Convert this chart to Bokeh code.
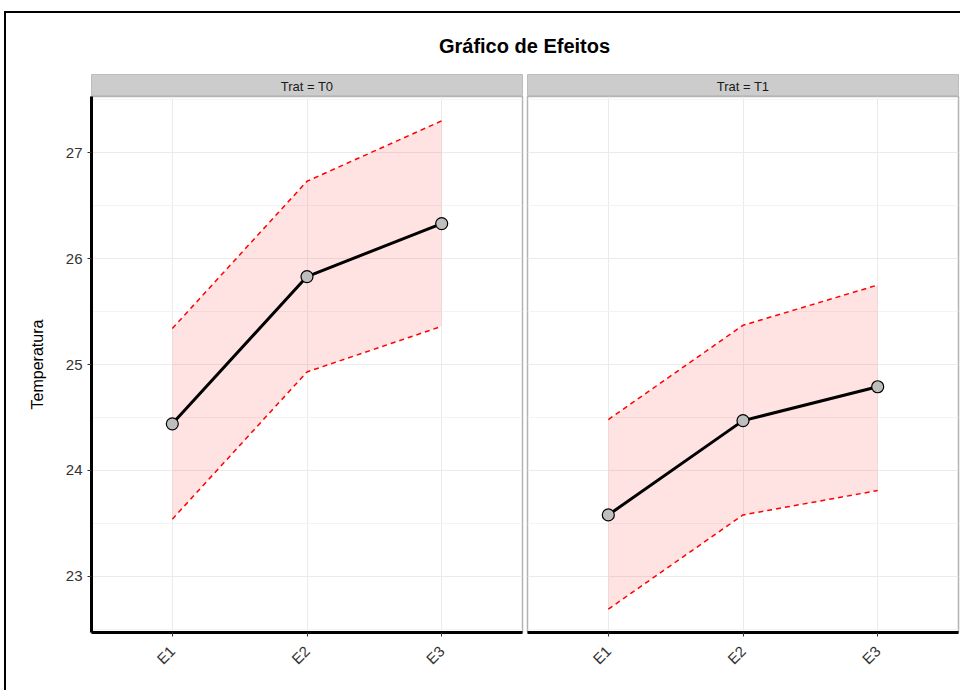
import math
from bokeh.plotting import figure
from bokeh.models import Range1d, FixedTicker, Grid, Div
from bokeh.layouts import column, row
from bokeh.embed import file_html
from bokeh.resources import INLINE
from bokeh.core.properties import value

# ---- data ----
categories = ["E1", "E2", "E3"]
x_pos = [1, 2, 3]
t0_mean = [24.44, 25.83, 26.33]
t0_upper = [25.34, 26.73, 27.30]
t0_lower = [23.54, 24.93, 25.36]
t1_mean = [23.58, 24.47, 24.79]
t1_upper = [24.48, 25.37, 25.75]
t1_lower = [22.69, 23.58, 23.81]
panel_labels = ["Trat = T0", "Trat = T1"]
y_ticks = [23, 24, 25, 26, 27]
y_minor = [22.5, 23.5, 24.5, 25.5, 26.5, 27.5]
title_text = "Gráfico de Efeitos"
y_label = "Temperatura"

FONT = "Liberation Sans"
GRID = "#EBEBEB"
FRAME_W = 431
FRAME_H = 536
LEFT_B = 85


def make_strip(label, left):
    bl = LEFT_B if left else 3
    s = figure(width=bl + FRAME_W + 2, height=22, x_range=Range1d(0, 1), y_range=Range1d(0, 1),
               output_backend="svg", toolbar_location=None,
               min_border_left=bl, min_border_right=2, min_border_top=0, min_border_bottom=0,
               x_axis_location=None, y_axis_location=None,
               background_fill_color="#CCCCCC", outline_line_color="#BDBDBD", outline_line_width=1)
    s.grid.grid_line_color = None
    s.grid.visible = False
    s.text(x=[0.5], y=[0.45], text=[label], text_align="center", text_baseline="middle",
           text_font=value(FONT), text_font_size="13px", text_color="#1A1A1A")
    return s


def make_panel(mean, up, lo, left):
    bl = LEFT_B if left else 3
    p = figure(width=bl + FRAME_W + 2, height=FRAME_H + 58,
               x_range=Range1d(0.4, 3.6), y_range=Range1d(22.47, 27.53),
               output_backend="svg", toolbar_location=None,
               min_border_left=bl, min_border_right=2, min_border_top=0, min_border_bottom=58,
               y_axis_location="left" if left else None,
               outline_line_color="#B3B3B3", outline_line_width=1.5)
    yt = FixedTicker(ticks=y_ticks, minor_ticks=y_minor)
    if left:
        ax = p.yaxis[0]
        ax.ticker = yt
        ax.axis_label = y_label
        ax.axis_label_text_font = FONT
        ax.axis_label_text_font_size = "16px"
        ax.axis_label_text_font_style = "normal"
        ax.axis_label_text_color = "#000000"
        ax.axis_label_standoff = 17
        ax.axis_line_color = "black"
        ax.axis_line_width = 3
        ax.major_tick_line_color = "#333333"
        ax.major_tick_in = 0
        ax.major_tick_out = 4
        ax.minor_tick_line_color = None
        ax.major_label_text_font = FONT
        ax.major_label_text_font_size = "15px"
        ax.major_label_text_color = "#333333"
        ax.major_label_standoff = 5
        p.ygrid.grid_line_color = GRID
        p.ygrid.minor_grid_line_color = "#F3F3F3"
    else:
        p.ygrid.visible = False
        p.add_layout(Grid(dimension=1, ticker=yt, grid_line_color=GRID,
                          minor_grid_line_color="#F3F3F3"))
    xa = p.xaxis[0]
    xa.ticker = FixedTicker(ticks=x_pos)
    xa.major_label_overrides = {x: c for x, c in zip(x_pos, categories)}
    xa.axis_line_color = "black"
    xa.axis_line_width = 3
    xa.major_tick_line_color = "#333333"
    xa.major_tick_in = 0
    xa.major_tick_out = 4
    xa.minor_tick_line_color = None
    xa.major_label_orientation = math.pi / 4
    xa.major_label_standoff = 12
    xa.major_label_text_font = FONT
    xa.major_label_text_font_size = "15px"
    xa.major_label_text_color = "#333333"
    p.xgrid.grid_line_color = GRID

    p.varea(x=x_pos, y1=lo, y2=up, fill_color="red", fill_alpha=0.11)
    p.line(x_pos, up, line_color="red", line_dash="5 4", line_width=1.5)
    p.line(x_pos, lo, line_color="red", line_dash="5 4", line_width=1.5)
    p.line(x_pos, mean, line_color="black", line_width=3)
    p.scatter(x_pos, mean, size=12, fill_color="#BEBEBE", line_color="black", line_width=1.2)
    return p


title_w = FRAME_W * 2 + 5
title = Div(text=f'<div style="width:{title_w}px;font-family:{FONT},Arial,sans-serif;font-weight:bold;'
                 f'font-size:20px;text-align:center;padding-top:19px;color:#000;">{title_text}</div>',
            width=title_w, height=61, margin=(0, 0, 0, LEFT_B))

s0 = make_strip(panel_labels[0], True)
s1 = make_strip(panel_labels[1], False)
p0 = make_panel(t0_mean, t0_upper, t0_lower, True)
p1 = make_panel(t1_mean, t1_upper, t1_lower, False)

layout = column(title, row(s0, s1), row(p0, p1), margin=(11, 0, 0, 4),
                styles={"border-left": "2px solid black", "border-top": "2px solid black",
                        "background-color": "white"})

open("out.html", "w").write(file_html(layout, INLINE))
